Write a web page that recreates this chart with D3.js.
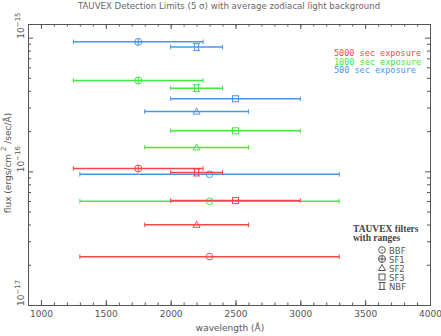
<!DOCTYPE html>
<html>
<head>
<meta charset="utf-8">
<script src="https://cdn.jsdelivr.net/npm/d3@7"></script>
<style>
  body { margin: 0; background: #fff; }
  svg { display: block; }
  text { font-family: "DejaVu Sans", sans-serif; fill: #555; }
  .axis path, .axis line { stroke: #555; }
</style>
</head>
<body>
<svg id="chart" width="441" height="336"></svg>
<script>
// filters with their wavelength ranges
var filters = ["BBF", "SF1", "SF2", "SF3", "NBF"];
var centers = [2300, 1750, 2200, 2500, 2200];
var rangeLo = [1300, 1250, 1800, 2000, 2000];
var rangeHi = [3300, 2250, 2600, 3000, 2400];

// detection limits (ergs/cm^2/sec/A) per exposure, same order as filters
var exposures = ["5000 sec exposure", "1000 sec exposure", "500 sec exposure"];
var flux5000 = [2.3e-17, 1.05e-16, 3.98e-17, 6.04e-17, 0.98e-16];
var flux1000 = [5.97e-17, 4.78e-16, 1.51e-16, 2.01e-16, 4.19e-16];
var flux500  = [0.95e-16, 9.3e-16, 2.8e-16, 3.49e-16, 8.5e-16];

var xMajor = [1000, 1500, 2000, 2500, 3000, 3500, 4000];
var yMajor = [1e-17, 1e-16, 1e-15];
var yLabels = ["−17", "−16", "−15"];

var colors = ["#f44848", "#3eea3e", "#4a94ee"];

(function() {
  var svg = d3.select("#chart");
  var pLeft = 28, pRight = 430, pTop = 24, pBottom = 305;

  var x = d3.scaleLinear().domain([900, 4000]).range([pLeft, pRight]);
  var y = d3.scaleLog().domain([1e-17, 1.265e-15]).range([pBottom, pTop]);

  // title
  svg.append("text")
    .attr("x", 229).attr("y", 9)
    .attr("text-anchor", "middle")
    .style("font-size", "8.6px")
    .style("fill", "#666")
    .text("TAUVEX Detection Limits (5 σ) with average zodiacal light background");

  // axes: ticks point inward on all four sides
  var xMinor = d3.range(900, 4001, 100);
  var yMinor = [];
  [-17, -16].forEach(function(e) {
    d3.range(2, 10).forEach(function(m) { yMinor.push(m * Math.pow(10, e)); });
  });

  function noLabel() { return ""; }

  svg.append("g").attr("class", "axis").attr("transform", "translate(0," + pBottom + ")")
    .call(d3.axisBottom(x).tickValues(xMinor).tickSize(-2.5).tickFormat(noLabel));
  svg.append("g").attr("class", "axis").attr("transform", "translate(0," + pBottom + ")")
    .call(d3.axisBottom(x).tickValues(xMajor).tickSizeInner(-5).tickSizeOuter(0)
      .tickPadding(6).tickFormat(d3.format("d")))
    .selectAll("text").style("font-size", "9px").style("fill", "#555")
    .style("font-family", "'DejaVu Sans', sans-serif");
  svg.append("g").attr("class", "axis").attr("transform", "translate(0," + pTop + ")")
    .call(d3.axisTop(x).tickValues(xMinor).tickSize(-2.5).tickFormat(noLabel));
  svg.append("g").attr("class", "axis").attr("transform", "translate(0," + pTop + ")")
    .call(d3.axisTop(x).tickValues(xMajor).tickSizeInner(-5).tickSizeOuter(0).tickFormat(noLabel));

  svg.append("g").attr("class", "axis").attr("transform", "translate(" + pLeft + ",0)")
    .call(d3.axisLeft(y).tickValues(yMinor).tickSize(-3).tickFormat(noLabel));
  svg.append("g").attr("class", "axis").attr("transform", "translate(" + pLeft + ",0)")
    .call(d3.axisLeft(y).tickValues(yMajor).tickSizeInner(-5).tickSizeOuter(0).tickFormat(noLabel));
  svg.append("g").attr("class", "axis").attr("transform", "translate(" + pRight + ",0)")
    .call(d3.axisRight(y).tickValues(yMinor).tickSize(-3).tickFormat(noLabel));
  svg.append("g").attr("class", "axis").attr("transform", "translate(" + pRight + ",0)")
    .call(d3.axisRight(y).tickValues(yMajor).tickSizeInner(-5).tickSizeOuter(0).tickFormat(noLabel));

  // y tick labels, rotated, 10 with superscript exponent
  yMajor.forEach(function(v, i) {
    var t = svg.append("text")
      .attr("transform", "translate(24," + (y(v) + 1) + ") rotate(-90)")
      .style("font-size", "9px");
    t.append("tspan").text("10");
    t.append("tspan").attr("dy", -4).style("font-size", "7px").text(yLabels[i]);
  });

  // axis titles
  svg.append("text")
    .attr("x", 230).attr("y", 331)
    .attr("text-anchor", "middle")
    .style("font-size", "9px")
    .text("wavelength (Å)");

  var yt = svg.append("text")
    .attr("transform", "translate(11,163) rotate(-90)")
    .attr("text-anchor", "middle")
    .style("font-size", "9px");
  yt.append("tspan").text("flux (ergs/cm ");
  yt.append("tspan").attr("dy", -5).style("font-size", "7px").text("2");
  yt.append("tspan").attr("dy", 5).text(" /sec/Å)");

  // markers for each filter
  function drawMarker(g, name, cx, cy, col, dotted) {
    var s = g.append("g").attr("transform", "translate(" + cx + "," + cy + ")")
      .attr("fill", "none").attr("stroke", col).attr("stroke-width", 1);
    if (name === "BBF") {
      s.append("circle").attr("r", 3.3);
      if (dotted) s.append("circle").attr("r", 0.8).attr("fill", col).attr("stroke", "none");
    } else if (name === "SF1") {
      s.append("circle").attr("r", 3.5);
      s.append("path").attr("d", "M-3.5,0H3.5M0,-3.5V3.5");
    } else if (name === "SF2") {
      s.append("path").attr("d", "M-3.5,2.5H3.5L0,-3.5Z");
    } else if (name === "SF3") {
      s.append("rect").attr("x", -3).attr("y", -3).attr("width", 6).attr("height", 6);
    } else if (name === "NBF") {
      s.append("path").attr("d", "M-3.5,-3.5H3.5M-3.5,3.5H3.5M-2,-3.5V3.5M2,-3.5V3.5");
    }
  }

  // error bars: draw 500 first, then 1000, then 5000 on top
  var series = [flux5000, flux1000, flux500];
  [2, 1, 0].forEach(function(si) {
    var g = svg.append("g");
    var col = colors[si];
    series[si].forEach(function(f, i) {
      var yy = y(f);
      g.append("line")
        .attr("x1", x(rangeLo[i])).attr("x2", x(rangeHi[i]))
        .attr("y1", yy).attr("y2", yy)
        .attr("stroke", col).attr("stroke-width", 1.5);
      [rangeLo[i], rangeHi[i]].forEach(function(w) {
        g.append("line")
          .attr("x1", x(w)).attr("x2", x(w))
          .attr("y1", yy - 2.3).attr("y2", yy + 2.3)
          .attr("stroke", col).attr("stroke-width", 1);
      });
      drawMarker(g, filters[i], x(centers[i]), yy, col, false);
    });
  });

  // exposure legend
  exposures.forEach(function(e, i) {
    svg.append("text")
      .attr("x", 334).attr("y", 56 + i * 8.7)
      .style("font-family", "'DejaVu Sans Mono', monospace")
      .style("font-size", "8.5px")
      .style("fill", colors[i])
      .text(e);
  });

  // filter legend
  ["TAUVEX filters", "with ranges"].forEach(function(s, i) {
    svg.append("text")
      .attr("x", 353).attr("y", 232 + i * 9)
      .style("font-family", "'Liberation Serif', serif")
      .style("font-size", "9.5px")
      .style("font-weight", "bold")
      .style("fill", "#444")
      .text(s);
  });
  var lg = svg.append("g");
  filters.forEach(function(name, i) {
    var ly = 250 + i * 9;
    drawMarker(lg, name, 382, ly, "#555", true);
    lg.append("text")
      .attr("x", 389).attr("y", ly + 3.5)
      .style("font-size", "8.5px")
      .text(name);
  });
})();
</script>
</body>
</html>
